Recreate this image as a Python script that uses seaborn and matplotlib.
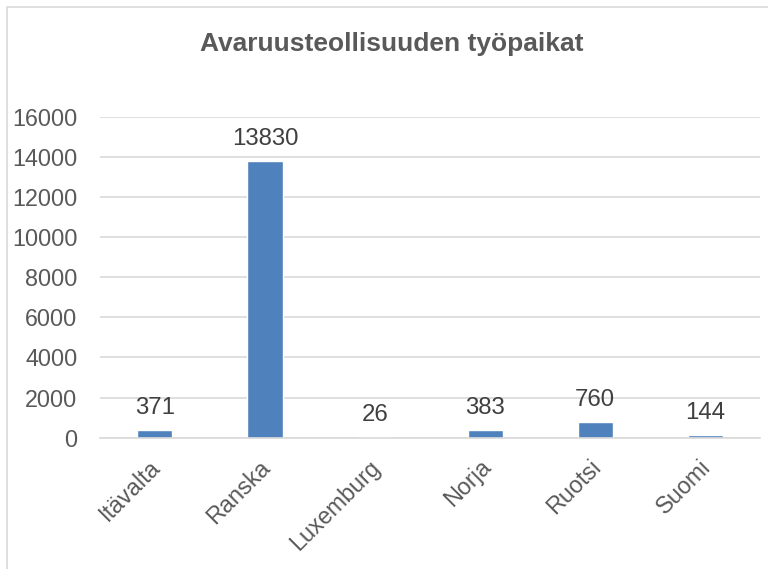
import matplotlib
matplotlib.use("Agg")
import matplotlib.pyplot as plt
import matplotlib.transforms as mtransforms
import seaborn as sns
import pandas as pd
from matplotlib.patches import Rectangle

# Chart data
countries = ["Itävalta", "Ranska", "Luxemburg", "Norja", "Ruotsi", "Suomi"]
jobs = [371, 13830, 26, 383, 760, 144]
y_ticks = [0, 2000, 4000, 6000, 8000, 10000, 12000, 14000, 16000]

df = pd.DataFrame({"maa": countries, "tyopaikat": jobs})

sns.set_theme(style="white")
plt.rcParams["font.family"] = ["Liberation Sans", "DejaVu Sans"]

fig = plt.figure(figsize=(7.68, 5.69), dpi=100)
ax = fig.add_axes([0.130, 0.231, 0.860, 0.563])

sns.barplot(data=df, x="maa", y="tyopaikat", color="#4F81BD",
            saturation=1, width=0.32, ax=ax)

ax.set_ylim(0, 16000)
ax.set_yticks(y_ticks)
ax.set_xlim(-0.5, len(countries) - 0.5)
ax.yaxis.grid(True, color="#D9D9D9", linewidth=1.2)
ax.set_axisbelow(True)
for s in ["top", "right", "left"]:
    ax.spines[s].set_visible(False)
ax.spines["bottom"].set_color("#D9D9D9")
ax.spines["bottom"].set_linewidth(1.2)

ax.set_xlabel("")
ax.set_ylabel("")
ax.tick_params(axis="y", length=0, labelsize=16.8, colors="#595959", pad=16)
ax.tick_params(axis="x", length=0, labelsize=16.8, colors="#595959", pad=13)

# rotated category labels, nudged a little left to sit under the bars
shift = mtransforms.ScaledTranslation(-6 / 100, 0, fig.dpi_scale_trans)
for lbl in ax.get_xticklabels():
    lbl.set_rotation(45)
    lbl.set_ha("right")
    lbl.set_rotation_mode("anchor")
    lbl.set_transform(lbl.get_transform() + shift)

for i, v in enumerate(jobs):
    ax.annotate(str(v), (i, v), xytext=(0, 11.5), textcoords="offset points",
                ha="center", va="baseline", fontsize=17.3, color="#404040")

fig.text(0.51, 0.923, "Avaruusteollisuuden työpaikat", ha="center", va="center",
         fontsize=19, fontweight="bold", color="#595959")

# light frame around the chart area
fig.patches.append(Rectangle((7 / 768, -0.1), 1.2, 1 - 7 / 569 + 0.1,
                             transform=fig.transFigure, fill=False,
                             edgecolor="#D9D9D9", linewidth=1.2))

fig.savefig("out.png", dpi=100)
